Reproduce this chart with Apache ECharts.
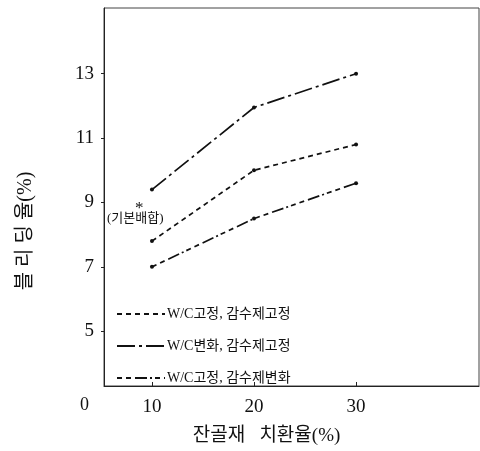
<!DOCTYPE html>
<html>
<head>
<meta charset="utf-8">
<script src="https://cdn.jsdelivr.net/npm/echarts@6/dist/echarts.min.js"></script>
<style>
  html, body { margin: 0; padding: 0; background: #fff; }
  #chart { width: 480px; height: 451px; }
</style>
</head>
<body>
<div id="chart"></div>
<script>
// Replacement ratio of fine aggregate (%)
const replaceRatio = [10, 20, 30];
// Bleeding rate (%) for each mix condition
const wcFixedAdmixFixed = [7.8, 10.0, 10.8];
const wcVariedAdmixFixed = [9.4, 11.95, 13.0];
const wcFixedAdmixVaried = [7.0, 8.5, 9.6];
const seriesNames = ['W/C고정, 감수제고정', 'W/C변화, 감수제고정', 'W/C고정, 감수제변화'];
const xTicks = [10, 20, 30];
const yTicks = [5, 7, 9, 11, 13];

const serif = "'Liberation Serif', 'DejaVu Serif', 'Noto Sans CJK KR', serif";
const ink = '#111';

function pairs(xs, ys) { return xs.map((x, i) => [x, ys[i]]); }

const dashes = [
  [5, 4],
  [18, 4, 3, 4],
  [5, 4, 5, 4, 12, 3, 2, 3]
];
const seriesData = [wcFixedAdmixFixed, wcVariedAdmixFixed, wcFixedAdmixVaried];

const chart = echarts.init(document.getElementById('chart'));
chart.setOption({
  animation: false,
  backgroundColor: '#fff',
  grid: {
    left: 104, top: 8, right: 1, bottom: 63,
    show: true, borderColor: '#444', borderWidth: 1
  },
  xAxis: {
    type: 'value', min: 5.3, max: 42.05,
    name: '잔골재   치환율(%)', nameLocation: 'middle', nameGap: 41,
    nameTextStyle: { fontFamily: serif, fontSize: 19, color: ink, padding: [0, 0, 0, -50] },
    axisLine: { show: true, lineStyle: { color: '#222', width: 1 } },
    axisTick: { show: true, inside: true, length: 4, customValues: xTicks, lineStyle: { color: '#222' } },
    axisLabel: { customValues: xTicks, fontFamily: serif, fontSize: 19, color: ink, margin: 12 },
    splitLine: { show: false }
  },
  yAxis: {
    type: 'value', min: 3.3, max: 15.04,
    name: '블 리 딩 율(%)', nameLocation: 'middle', nameGap: 68,
    nameTextStyle: { fontFamily: serif, fontSize: 20, color: ink, padding: [0, 0, 0, -68] },
    axisLine: { show: true, lineStyle: { color: '#222', width: 1 } },
    axisTick: { show: true, inside: false, length: 3, customValues: yTicks, lineStyle: { color: '#222' } },
    axisLabel: { customValues: yTicks, fontFamily: serif, fontSize: 19, color: ink, margin: 10 },
    splitLine: { show: false }
  },
  legend: {
    orient: 'vertical', left: 111, top: 302,
    itemWidth: 48, itemHeight: 14, itemGap: 18,
    itemStyle: { opacity: 0 },
    textStyle: { fontFamily: serif, fontSize: 14, color: ink, padding: [0, 0, 0, -3] },
    data: seriesNames
  },
  series: seriesData.map((vals, i) => ({
    name: seriesNames[i],
    type: 'line',
    data: pairs(replaceRatio, vals),
    symbol: 'circle', symbolSize: 4,
    itemStyle: { color: ink },
    lineStyle: { color: ink, width: 1.7, type: dashes[i] }
  })),
  graphic: [
    { type: 'text', left: 80, top: 396, style: { text: '0', font: '18px ' + serif, fill: ink } },
    { type: 'text', left: 135, top: 200, style: { text: '*', font: '17px ' + serif, fill: ink } },
    { type: 'text', left: 107, top: 212, style: { text: '(기본배합)', font: '13px ' + serif, fill: ink } }
  ]
});
</script>
</body>
</html>
